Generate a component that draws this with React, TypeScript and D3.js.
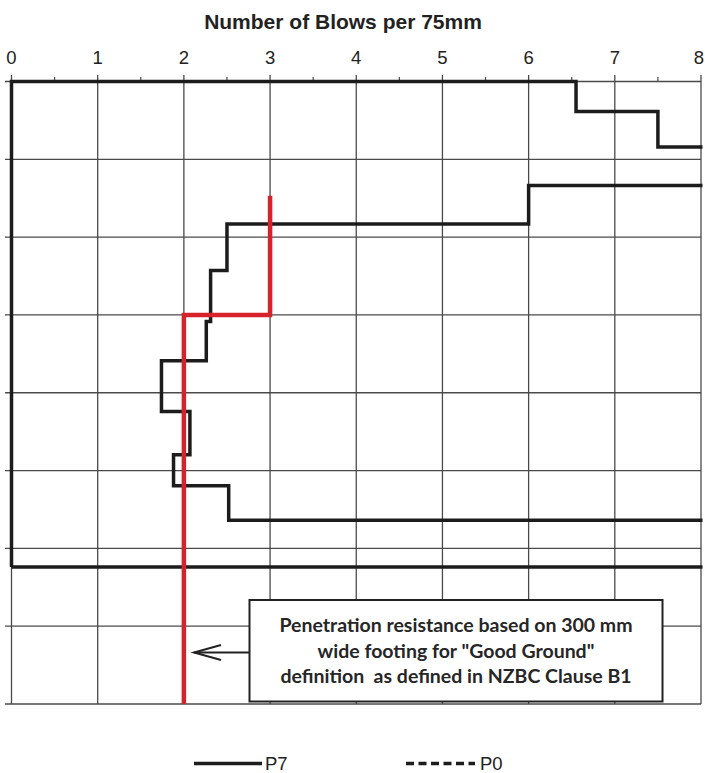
import React from "react";
import * as d3 from "d3";

const blowTicks = [0, 1, 2, 3, 4, 5, 6, 7, 8];
const minorTicks = [0.5, 1.5, 2.5, 3.5, 4.5, 5.5, 6.5, 7.5];
const depthGrid = [0, 300, 600, 900, 1200, 1500, 1800, 2100, 2400];

// P7 DCP profile: depth boundaries (mm) and blows per 75mm in each layer
const p7Depths = [0, 116, 253, 401, 549, 729, 925, 1077, 1272, 1439, 1559, 1692, 1872];
const p7Blows = [6.55, 7.5, 10, 6, 2.5, 2.31, 2.26, 1.74, 2.07, 1.88, 2.52, 10];

// "Good Ground" criterion line
const goodDepths = [440, 900, 2400];
const goodBlows = [3, 2];

const titleText = "Number of Blows per 75mm";
const noteLines = [
  "Penetration resistance based on 300 mm",
  "wide footing for \"Good Ground\"",
  "definition  as defined in NZBC Clause B1",
];
const legendItems = ["P7", "P0"];

const W = 705;
const H = 773;

export default function App() {
  const x = d3.scaleLinear().domain([0, 8]).range([11.5, 701]);
  const y = d3.scaleLinear().domain([0, 2400]).range([81.5, 704]);

  type Pt = [number, number];
  const stepPts = (depths: number[], blows: number[]): Pt[] => {
    const pts: Pt[] = [];
    blows.forEach((b, i) => {
      pts.push([b, depths[i]]);
      pts.push([b, depths[i + 1]]);
    });
    return pts;
  };

  const line = d3
    .line<Pt>()
    .x((d) => x(d[0]))
    .y((d) => y(d[1]));

  const endDepth = p7Depths[p7Depths.length - 1];
  const p7Pts: Pt[] = [[0, endDepth], [0, 0], ...stepPts(p7Depths, p7Blows), [0, endDepth]];
  const goodPts = stepPts(goodDepths, goodBlows);

  const gridColor = "#4a4a4a";
  const x8 = x(8);

  return (
    <svg
      width={W}
      height={H}
      style={{ position: "absolute", left: 0, top: 0, background: "#fff" }}
      xmlns="http://www.w3.org/2000/svg"
    >
      <defs>
        <clipPath id="plotClip">
          <rect x={0} y={0} width={x8 + 1.5} height={H} />
        </clipPath>
      </defs>
      <rect x={0} y={0} width={W} height={H} fill="#fff" />

      {/* title */}
      <text
        x={343}
        y={29}
        textAnchor="middle"
        fontFamily="'Liberation Sans', Arial, sans-serif"
        fontWeight="bold"
        fontSize={21}
        fill="#222"
      >
        {titleText}
      </text>

      {/* horizontal grid */}
      {depthGrid.map((d) => (
        <line key={"h" + d} x1={5} x2={x8} y1={y(d)} y2={y(d)} stroke={gridColor} strokeWidth={1.3} />
      ))}
      {/* vertical grid */}
      {blowTicks.map((b) => (
        <line key={"v" + b} x1={x(b)} x2={x(b)} y1={75} y2={y(2400)} stroke={gridColor} strokeWidth={1.3} />
      ))}
      {/* minor ticks on top axis */}
      {minorTicks.map((b) => (
        <line key={"m" + b} x1={x(b)} x2={x(b)} y1={77} y2={y(0)} stroke={gridColor} strokeWidth={1.2} />
      ))}
      {/* tick labels */}
      {blowTicks.map((b) => (
        <text
          key={"t" + b}
          x={x(b) - (b === 8 ? 2 : 0)}
          y={63.5}
          textAnchor="middle"
          fontFamily="'Liberation Sans', Arial, sans-serif"
          fontSize={18.5}
          fill="#222"
        >
          {b}
        </text>
      ))}

      {/* P7 series */}
      <path
        d={line(p7Pts) || ""}
        fill="none"
        stroke="#1c1c1c"
        strokeWidth={3.5}
        strokeLinejoin="miter"
        clipPath="url(#plotClip)"
      />

      {/* Good ground line */}
      <path d={line(goodPts) || ""} fill="none" stroke="#d6232b" strokeWidth={4.5} strokeLinejoin="miter" />

      {/* annotation box */}
      <rect x={249.5} y={600} width={413} height={101.5} fill="#fff" stroke="#222" strokeWidth={2} />
      {noteLines.map((t, i) => (
        <text
          key={"n" + i}
          x={456}
          y={632 + i * 25.5}
          textAnchor="middle"
          fontFamily="Lato, 'Open Sans', sans-serif"
          fontWeight="bold"
          fontSize={19.5}
          fill="#262626"
          style={{ whiteSpace: "pre" }}
        >
          {t}
        </text>
      ))}
      {/* arrow */}
      <line x1={249.5} x2={194} y1={652.5} y2={652.5} stroke="#222" strokeWidth={2} />
      <path d="M 221 645 L 194 652.5 L 221 660" fill="none" stroke="#222" strokeWidth={2} />

      {/* legend */}
      <line x1={194} x2={262} y1={763.5} y2={763.5} stroke="#1c1c1c" strokeWidth={3.5} />
      <text x={265} y={770} fontFamily="'Liberation Sans', Arial, sans-serif" fontSize={18.5} fill="#222">
        {legendItems[0]}
      </text>
      <line
        x1={406}
        x2={475}
        y1={763.5}
        y2={763.5}
        stroke="#1c1c1c"
        strokeWidth={3.5}
        strokeDasharray="8 4.5"
      />
      <text x={480} y={770} fontFamily="'Liberation Sans', Arial, sans-serif" fontSize={18.5} fill="#222">
        {legendItems[1]}
      </text>
    </svg>
  );
}
